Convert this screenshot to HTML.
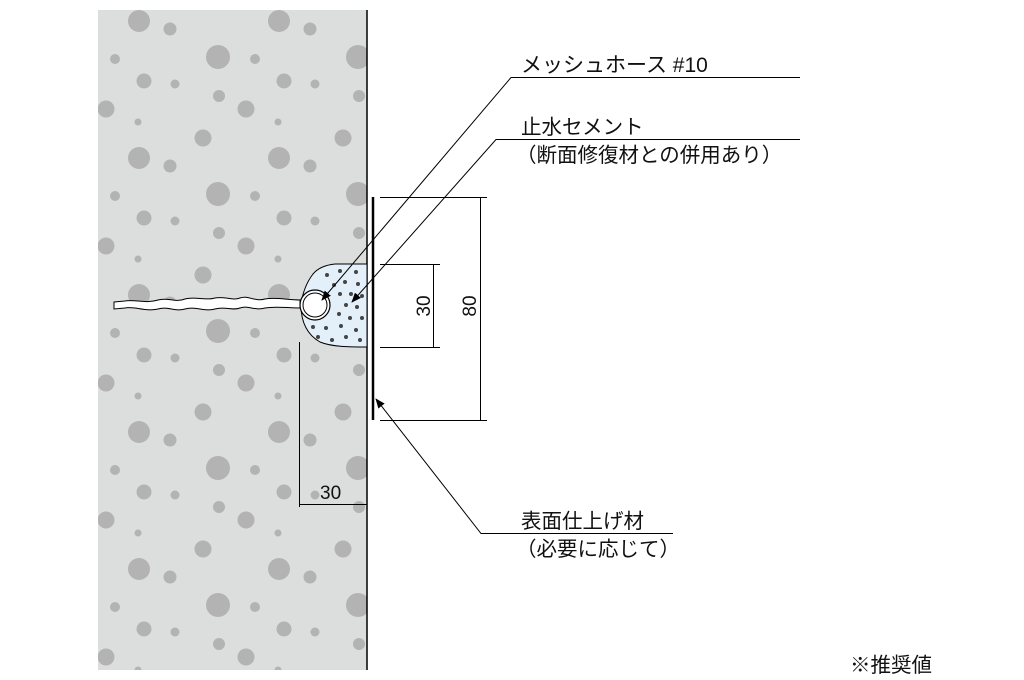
<!DOCTYPE html>
<html><head><meta charset="utf-8"><style>
body{margin:0;background:#fff}
svg{display:block}
text{font-family:"Liberation Sans","Noto Sans CJK JP",sans-serif;fill:#111}
</style></head><body>
<svg width="1024" height="680" viewBox="0 0 1024 680" xmlns="http://www.w3.org/2000/svg">
<defs>
<pattern id="agg" x="98" y="0" width="140" height="137" patternUnits="userSpaceOnUse">
<g fill="#b3b3b3">
<circle cx="41" cy="21" r="11"/><circle cx="72" cy="29" r="6.5"/>
<circle cx="120" cy="57" r="12"/><circle cx="17" cy="59" r="5"/><circle cx="157" cy="59" r="5"/>
<circle cx="46" cy="81" r="7.5"/><circle cx="77" cy="84" r="4.5"/>
<circle cx="121" cy="96" r="6"/><circle cx="8" cy="109" r="8.5"/><circle cx="148" cy="109" r="8.5"/>
<circle cx="40" cy="122" r="3.5"/><circle cx="105" cy="138" r="8.5"/><circle cx="105" cy="1" r="8.5"/>
</g>
</pattern>
<marker id="ar" markerWidth="10" markerHeight="8" refX="9" refY="4" orient="auto" markerUnits="userSpaceOnUse">
<path d="M0,0 L10,4 L0,8 Z" fill="#000"/>
</marker>
</defs>
<rect x="98" y="10" width="269" height="660" fill="#dcdddd"/>
<rect x="98" y="10" width="269" height="660" fill="url(#agg)"/>
<line x1="367" y1="10" x2="367" y2="670" stroke="#000" stroke-width="1.5"/>
<!-- crack -->
<path d="M114,302 L125,301 C135,299 145,304 158,300 C168,297 175,303 185,299 C195,296 205,301 215,298 C225,296 232,301 240,298 C248,295 255,302 265,299 C275,297 288,300 300,300 L300,308 C288,308 275,306 265,308 C255,311 248,305 240,308 C232,311 225,306 215,309 C205,312 195,306 185,309 C175,312 168,306 158,309 C145,312 135,306 125,308 L114,309 Z" fill="#fff" stroke="#000" stroke-width="1"/>
<!-- grout -->
<path d="M367,264 L335,264 C325,265 318,268 313,274 C306,283 302,295 301,305 C301,320 306,334 320,342 C332,347 350,347 367,347 Z" fill="#e3f0fa" stroke="#000" stroke-width="1"/>
<g fill="#444">
<circle cx="327" cy="275" r="2"/><circle cx="340" cy="271" r="2"/><circle cx="356" cy="272" r="2"/>
<circle cx="334" cy="285" r="2"/><circle cx="345" cy="282" r="2"/><circle cx="358" cy="284" r="2"/>
<circle cx="340" cy="294" r="2"/><circle cx="351" cy="294" r="2"/><circle cx="362" cy="296" r="2"/>
<circle cx="346" cy="305" r="2"/><circle cx="357" cy="307" r="2"/>
<circle cx="339" cy="314" r="2"/><circle cx="350" cy="318" r="2"/><circle cx="362" cy="318" r="2"/>
<circle cx="313" cy="327" r="2"/><circle cx="326" cy="328" r="2"/><circle cx="341" cy="326" r="2"/><circle cx="356" cy="330" r="2"/>
<circle cx="318" cy="337" r="2"/><circle cx="332" cy="340" r="2"/><circle cx="346" cy="337" r="2"/><circle cx="360" cy="340" r="2"/>
</g>
<!-- pipe -->
<circle cx="315" cy="305" r="15" fill="#fff" stroke="#000" stroke-width="1.2"/>
<circle cx="315" cy="305" r="12" fill="#fff" stroke="#000" stroke-width="1"/>
<!-- finish -->
<line x1="373" y1="197" x2="373" y2="420" stroke="#000" stroke-width="2.5"/>
<!-- dims -->
<g stroke="#000" stroke-width="1" fill="none">
<line x1="380" y1="197.5" x2="487" y2="197.5"/><line x1="380" y1="420.5" x2="487" y2="420.5"/>
<line x1="480.5" y1="197" x2="480.5" y2="421"/>
<line x1="380" y1="264.5" x2="440" y2="264.5"/><line x1="380" y1="347.5" x2="440" y2="347.5"/>
<line x1="433.5" y1="264" x2="433.5" y2="348"/>
<line x1="299.5" y1="342" x2="299.5" y2="507"/><line x1="299" y1="504.5" x2="367" y2="504.5"/>
<!-- leaders -->
<polyline points="800,77.5 511,77.5 322,300" marker-end="url(#ar)"/>
<polyline points="800,139.5 496,139.5 352,302" marker-end="url(#ar)"/>
<polyline points="673,533.5 481,533.5 376,399" marker-end="url(#ar)"/>
</g>
<text x="0" y="0" font-size="19" transform="translate(430,306) rotate(-90)" text-anchor="middle">30</text>
<text x="0" y="0" font-size="19" transform="translate(476,306) rotate(-90)" text-anchor="middle">80</text>
<text x="320" y="499" font-size="19">30</text>
<text x="521" y="72" font-size="21">メッシュホース #10</text>
<text x="521" y="134" font-size="20.5">止水セメント</text>
<text x="516" y="162" font-size="20.5">（断面修復材との併用あり）</text>
<text x="521" y="528" font-size="20.5">表面仕上げ材</text>
<text x="516" y="556" font-size="20.5">（必要に応じて）</text>
<text x="850" y="672" font-size="20.5">※推奨値</text>
</svg>
</body></html>
